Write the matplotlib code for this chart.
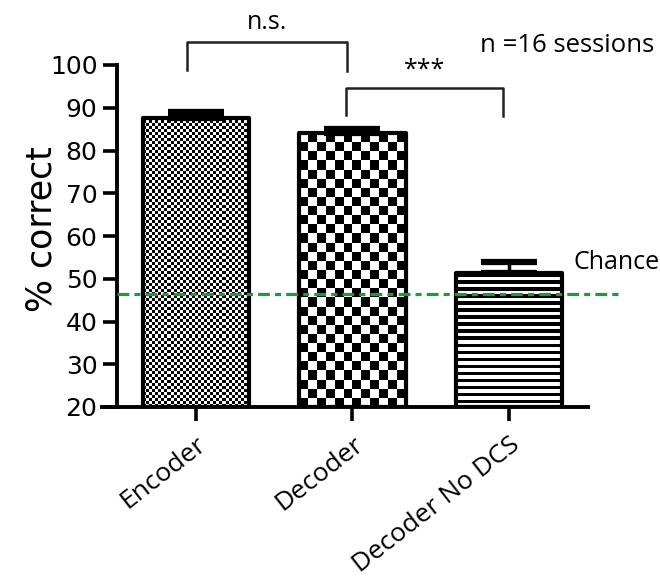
import numpy as np
import matplotlib.pyplot as plt
from matplotlib.patches import Rectangle

# Percent correct per condition (mean and SEM over sessions)
groups = ['Encoder', 'Decoder', 'Decoder No DCS']
means = [87.7, 84.0, 51.3]
sems = [1.2, 1.1, 2.7]
chance = 46.5
n_sessions = 16

plt.rcParams['font.family'] = ['DejaVu Sans']
myriad = ['Open Sans', 'DejaVu Sans']

fig = plt.figure(figsize=(6.6, 5.84), dpi=100)
ax = fig.add_axes([102 / 660, 1 - 407 / 584, (588 - 102) / 660, (407 - 65) / 584])

x = np.arange(len(groups))
width = 0.68


def checker(cell_px, w_px, h_px):
    nx = int(round(w_px / cell_px))
    ny = int(round(h_px / cell_px))
    yy, xx = np.indices((ny, nx))
    return ((xx + yy) % 2).astype(float)


def stripes(period_px, w_px, h_px):
    ny = int(round(h_px * 2 / period_px))
    rows = (np.arange(ny) % 2 == 0).astype(float)
    return np.repeat(rows[:, None], 4, axis=1)


# pixels per data unit, used only to size the fill textures
px_x = (588 - 102) / 3.105
px_y = (407 - 65) / 80.0

textures = [lambda w, h: checker(3.0, w, h),
            lambda w, h: checker(9.0, w, h),
            lambda w, h: stripes(7.0, w, h)]

for i, (m, s) in enumerate(zip(means, sems)):
    x0 = x[i] - width / 2
    img = textures[i](width * px_x, (m - 20) * px_y)
    im = ax.imshow(img, cmap='gray_r', vmin=0, vmax=1, interpolation='nearest',
                   extent=[x0, x0 + width, 20, m], aspect='auto', zorder=1)
    rect = Rectangle((x0, 20), width, m - 20, facecolor='none',
                     edgecolor='black', linewidth=3, zorder=3, joinstyle='round')
    ax.add_patch(rect)
    im.set_clip_path(rect)
    ax.errorbar(x[i], m, yerr=[[0], [s]], fmt='none', ecolor='black',
                elinewidth=2.5, capsize=20, capthick=4.5, zorder=2)

ax.set_xlim(-0.6, 2.505)
ax.set_ylim(20, 100)

# chance level
ax.plot([-0.505, 2.72], [chance, chance], color='#1c9a42',
        linestyle=(0, (3.7, 1.6, 1.9, 1.6)), linewidth=2.3, clip_on=False, zorder=4)
ax.text(2.41, 53.9, 'Chance', fontsize=18, family=myriad,
        ha='left', va='center', clip_on=False)

# axes styling
for side in ['top', 'right']:
    ax.spines[side].set_visible(False)
ax.spines['left'].set_position(('data', -0.505))
ax.spines['left'].set_linewidth(2.8)
ax.spines['bottom'].set_linewidth(2.8)
ax.spines['left'].set_bounds(20, 100)

ax.set_yticks(np.arange(20, 101, 10))
ax.tick_params(axis='y', direction='out', length=10, width=2.6, labelsize=18, pad=4)
ax.set_xticks(x)
ax.set_xticklabels(groups, rotation=38, ha='right', rotation_mode='anchor',
                   fontsize=19, family=myriad)
ax.tick_params(axis='x', direction='out', length=10, width=2.6, pad=8)

ax.set_ylabel('% correct', fontsize=25, va='center')
ax.yaxis.set_label_coords(-0.125, 0.52)

# significance brackets
def bracket(x1, x2, y_top, y_drop1, y_drop2, label, label_y, fs):
    ax.plot([x1, x1, x2, x2], [y_drop1, y_top, y_top, y_drop2], color='#222222',
            linewidth=1.8, clip_on=False)
    ax.text((x1 + x2) / 2, label_y, label, ha='center', va='center', fontsize=fs,
            family=myriad, clip_on=False)


bracket(-0.06, 0.965, 105.4, 98.8, 98.6, 'n.s.', 110.0, 18)
bracket(0.96, 1.96, 94.6, 88.3, 88.0, '***', 98.9, 18)

ax.text(2.93, 104.6, 'n =%d sessions' % n_sessions, ha='right', va='center',
        fontsize=18.5, family=myriad, clip_on=False)

fig.savefig('out.png', dpi=100)
